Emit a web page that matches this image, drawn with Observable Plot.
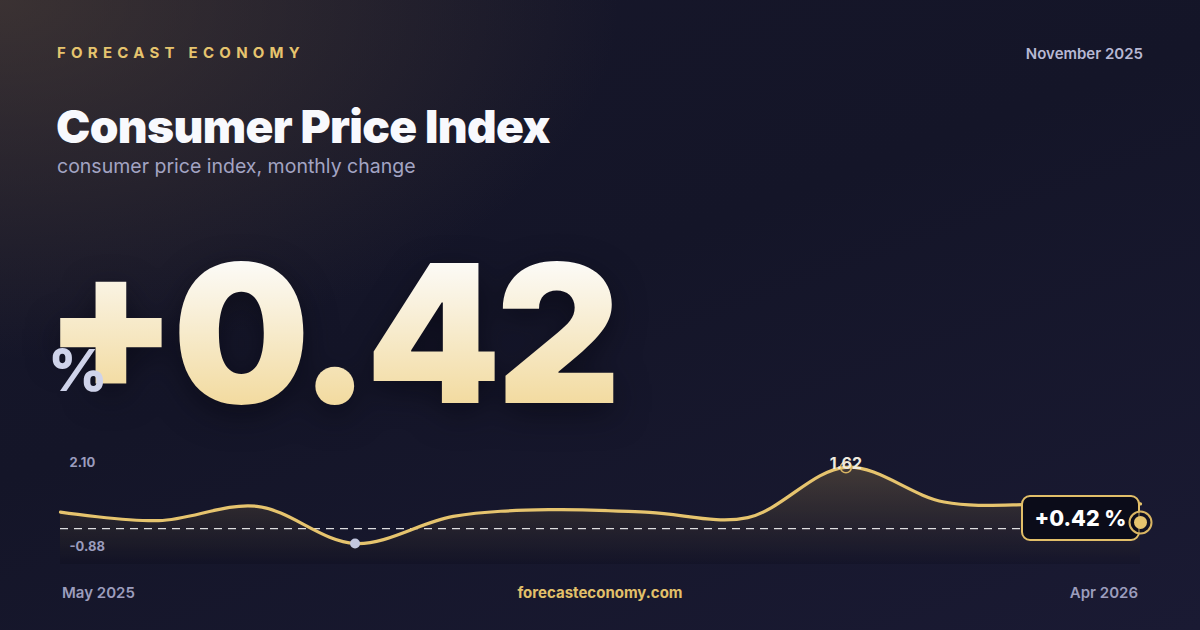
<!DOCTYPE html>
<html>
<head>
<meta charset="utf-8">
<script src="https://cdn.jsdelivr.net/npm/d3@7"></script>
<script src="https://cdn.jsdelivr.net/npm/@observablehq/plot@0.6"></script>
<style>
  html, body { margin: 0; padding: 0; background: #151627; }
  #card {
    position: relative; width: 1200px; height: 630px; overflow: hidden;
    font-family: Inter, "Noto Sans", sans-serif;
    background:
      radial-gradient(ellipse 620px 360px at 0px 0px, rgba(88,72,58,0.55), rgba(88,72,58,0) 100%),
      linear-gradient(160deg, #17172a 0%, #141528 45%, #1a1a33 100%);
  }
  .abs { position: absolute; white-space: nowrap; }
  #brand { left: 57px; top: 43px; font-size: 15px; font-weight: 700; letter-spacing: 5.25px; color: #e6c46e; }
  #date { right: 57px; top: 44px; font-size: 15px; font-weight: 600; color: #b7b8d4; }
  #title { left: 56px; top: 98px; font-size: 46px; font-weight: 900; color: #f8f9fd; letter-spacing: -0.65px; }
  #subtitle { left: 57px; top: 154px; font-size: 19.5px; font-weight: 400; color: #a3a4c3; }
  #big {
    left: 44px; top: 237px; font-size: 193px; font-weight: 900; line-height: 1; letter-spacing: -5px;
    filter: drop-shadow(0 10px 16px rgba(5,6,15,0.55));
  }
  #big span {
    display: inline-block;
    background: linear-gradient(180deg, #fcfbf8 12%, #f2da9e 88%);
    -webkit-background-clip: text; background-clip: text; color: transparent;
  }
  #big span.sign { position: relative; top: -13px; }
  #pct { left: 48px; top: 341px; font-size: 58px; font-weight: 800; color: #cfd3ea; line-height: 1; }
  #chart { position: absolute; left: 60px; top: 440px; }
  #chart svg { overflow: visible; }
  #badge {
    position: absolute; box-sizing: border-box; height: 46px; width: 119px;
    border: 2px solid #e2bf69; border-radius: 9px; background: #0b0c19;
    color: #ffffff; font-size: 21.5px; font-weight: 800; text-align: center; line-height: 42px;
  }
  .foot { top: 583px; font-size: 15px; font-weight: 600; }
  #fstart { left: 62px; color: #9c9dbd; }
  #fsite { left: 0; width: 1200px; text-align: center; color: #e2c06a; font-weight: 700; }
  #fend { right: 62px; color: #9c9dbd; }
</style>
</head>
<body>
<div id="card">
  <div class="abs" id="brand"></div>
  <div class="abs" id="date"></div>
  <div class="abs" id="title"></div>
  <div class="abs" id="subtitle"></div>
  <div class="abs" id="big"><span class="sign" id="bigSign"></span><span id="bigNum"></span></div>
  <div class="abs" id="pct">%</div>
  <div id="chart"></div>
  <div class="abs foot" id="fstart"></div>
  <div class="abs foot" id="fsite"></div>
  <div class="abs foot" id="fend"></div>
</div>
<script>
// ---- data ----
const brand = "FORECAST ECONOMY";
const dateLabel = "November 2025";
const title = "Consumer Price Index";
const subtitle = "consumer price index, monthly change";
const siteLabel = "forecasteconomy.com";
const months = ["2025-05","2025-06","2025-07","2025-08","2025-09","2025-10","2025-11","2025-12","2026-01","2026-02","2026-03","2026-04"];
const values = [0.15, -0.13, 0.34, -0.88, 0.01, 0.23, 0.14, -0.03, 1.62, 0.48, 0.40, 0.42];
const latestValue = 0.42;
const yLabels = ["2.10", "-0.88"];
const refValue = -0.39;      // dashed reference line
const markerValue = -0.19;   // end marker height
const startLabel = "May 2025";
const endLabel = "Apr 2026";
const yDomain = [-1.57, 2.5];

// ---- build ----
const data = months.map((m, i) => ({i, month: m, v: values[i]}));
const last = data[data.length - 1];
const minPt = data.reduce((a, b) => (b.v < a.v ? b : a));
const maxPt = data.reduce((a, b) => (b.v > a.v ? b : a));
const fmt = d3.format(".2f");
const sign = latestValue >= 0 ? "+" : "-";

document.getElementById("brand").textContent = brand;
document.getElementById("date").textContent = dateLabel;
document.getElementById("title").textContent = title;
document.getElementById("subtitle").textContent = subtitle;
document.getElementById("bigSign").textContent = sign;
document.getElementById("bigNum").textContent = fmt(Math.abs(latestValue));
document.getElementById("fstart").textContent = startLabel;
document.getElementById("fsite").textContent = siteLabel;
document.getElementById("fend").textContent = endLabel;

const NS = "http://www.w3.org/2000/svg";
function gradientDefs() {
  const defs = document.createElementNS(NS, "defs");
  const lg = document.createElementNS(NS, "linearGradient");
  lg.setAttribute("id", "areaGrad");
  lg.setAttribute("x1", "0"); lg.setAttribute("y1", "0");
  lg.setAttribute("x2", "0"); lg.setAttribute("y2", "1");
  [["0%", 0.27], ["100%", 0.0]].forEach(([o, op]) => {
    const s = document.createElementNS(NS, "stop");
    s.setAttribute("offset", o);
    s.setAttribute("stop-color", "#e8c170");
    s.setAttribute("stop-opacity", op);
    lg.appendChild(s);
  });
  defs.appendChild(lg);
  return defs;
}

const gold = "#e6c46e";
const xDomain = [0, months.length - 1];
const plot = Plot.plot({
  width: 1080, height: 124,
  marginLeft: 0, marginRight: 0, marginTop: 0, marginBottom: 0,
  style: {background: "transparent", overflow: "visible", fontFamily: "Inter, sans-serif"},
  x: {domain: xDomain, axis: null},
  y: {domain: yDomain, axis: null},
  marks: [
    () => gradientDefs(),
    Plot.areaY(data, {x: "i", y1: yDomain[0], y2: "v", curve: "catmull-rom", fill: "url(#areaGrad)"}),
    Plot.areaY(data, {x: "i", y1: yDomain[0], y2: "v", curve: "catmull-rom", fill: "#07060e", fillOpacity: 0.18}),
    Plot.ruleY([refValue], {stroke: "#ffffff", strokeOpacity: 0.85, strokeWidth: 1.3, strokeDasharray: "8,6"}),
    Plot.line(data, {x: "i", y: "v", curve: "catmull-rom", stroke: gold, strokeWidth: 3.2}),
    Plot.dot([minPt], {x: "i", y: "v", r: 5, fill: "#c3c7df", stroke: "none"}),
    Plot.dot([maxPt], {x: "i", y: "v", r: 5.5, fill: "none", stroke: "#d9b563", strokeWidth: 1.5}),
    Plot.text([maxPt], {x: "i", y: "v", text: d => fmt(d.v), lineAnchor: "bottom", dy: 2, fill: "#efeadf", fontSize: 16, fontWeight: 700}),
    Plot.text([yLabels[0]], {frameAnchor: "top-left", text: d => d, dx: 9, dy: 17, fill: "#9a9cbd", fontSize: 13, fontWeight: 700, textAnchor: "start"}),
    Plot.text([yLabels[1]], {frameAnchor: "bottom-left", text: d => d, dx: 9, dy: -14, fill: "#9a9cbd", fontSize: 13, fontWeight: 700, textAnchor: "start"})
  ]
});
document.getElementById("chart").appendChild(plot);

// badge + end marker positioned through the chart's scales
const xs = plot.scale("x"), ys = plot.scale("y");
const lx = 60 + xs.apply(last.i);
const badge = document.createElement("div");
badge.id = "badge";
badge.textContent = sign + fmt(Math.abs(latestValue)) + " %";
badge.style.left = (lx - 119) + "px";
badge.style.top = (440 + ys.apply(markerValue) - 27) + "px";
document.getElementById("card").appendChild(badge);

const marker = Plot.plot({
  width: 1080, height: 124,
  marginLeft: 0, marginRight: 0, marginTop: 0, marginBottom: 0,
  style: {background: "transparent", overflow: "visible"},
  x: {domain: xDomain, axis: null},
  y: {domain: yDomain, axis: null},
  marks: [
    Plot.dot([{i: last.i, v: markerValue}], {x: "i", y: "v", r: 11, fill: "#0b0c19", fillOpacity: 0.6, stroke: "#d9b563", strokeWidth: 2}),
    Plot.dot([{i: last.i, v: markerValue}], {x: "i", y: "v", r: 6.5, fill: gold, stroke: "none"})
  ]
});
const mwrap = document.createElement("div");
mwrap.style.cssText = "position:absolute;left:60px;top:440px;";
mwrap.appendChild(marker);
marker.style.overflow = "visible";
document.getElementById("card").appendChild(mwrap);
</script>
</body>
</html>
